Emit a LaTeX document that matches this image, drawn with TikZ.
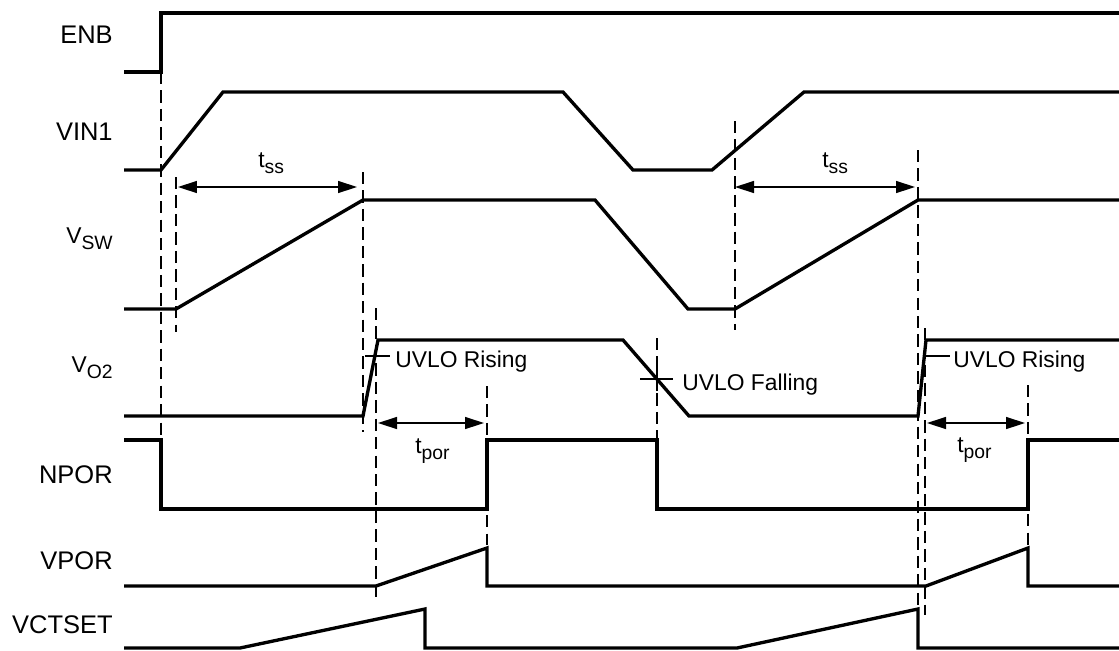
\documentclass[tikz,border=0pt]{standalone}
\usepackage{fontspec}
\setmainfont{Liberation Sans}
\usetikzlibrary{arrows.meta}
\newcommand{\lsub}[1]{\raisebox{-3.5pt}{\fontsize{11}{12}\selectfont #1}}
\begin{document}
\begin{tikzpicture}[x=0.02cm,y=-0.02cm,>={Triangle[length=0.38cm,width=0.24cm]},
		font=\fontsize{13}{15}\selectfont,
		wave/.style={line width=1.9pt},
		guide/.style={line width=0.8pt,dash pattern=on 7pt off 3.5pt},
		tick/.style={line width=0.8pt},
		dim/.style={line width=0.8pt,<->},
		sig/.style={anchor=base east,inner sep=0pt,font=\fontsize{14.5}{16}\selectfont},
		note/.style={anchor=base west,inner sep=0pt}]
	\useasboundingbox (0,0) rectangle (1119,650);
	\node[sig] (enb) at (113,43) {ENB};
	\node[sig] (vin) at (113,140) {VIN1};
	\node[sig,font=\fontsize{13}{15}\selectfont] (vsw) at (113,243) {V\lsub{SW}};
	\node[sig,font=\fontsize{13}{15}\selectfont] (vo) at (113,372) {V\lsub{O2}};
	\node[sig] (npor) at (113,483) {NPOR};
	\node[sig] (vpor) at (113,569) {VPOR};
	\node[sig] (vct) at (113,633) {VCTSET};
	\draw[guide] (161,72)--(161,440) (176,177)--(176,332) (363,172)--(363,432)
		(376,308)--(376,598) (487,386)--(487,545) (657,338)--(657,440)
		(735,121)--(735,330) (918,150)--(918,609) (925,328)--(925,615)
		(1028,385)--(1028,548);
	\draw[wave] (124,72)--(161,72)--(161,13)--(1119,13);
	\draw[wave] (124,170)--(161,170)--(223,92)--(563,92)--(633,170)--(712,170)--(804,92)--(1119,92);
	\draw[wave] (124,309)--(176,309)--(363,200)--(595,200)--(688,309)--(735,309)--(918,200)--(1119,200);
	\draw[wave] (124,416)--(363,416)--(378,340)--(623,340)--(689,416)--(918,416)--(926,340)--(1119,340);
	\draw[wave] (124,440)--(161,440)--(161,509)--(487,509)--(487,440)--(657,440)--(657,509)--(1028,509)--(1028,440)--(1119,440);
	\draw[wave] (124,586)--(376,586)--(487,548)--(487,586)--(926,586)--(1028,548)--(1028,586)--(1119,586);
	\draw[wave] (124,648)--(240,648)--(425,609)--(425,648)--(737,648)--(918,609)--(918,648)--(1119,648);
	\coordinate (ssa) at (178,187);
	\coordinate (ssb) at (357,187);
	\coordinate (ssc) at (735,187);
	\coordinate (ssd) at (915,187);
	\coordinate (pora) at (378,423);
	\coordinate (porb) at (484,423);
	\coordinate (porc) at (927,423);
	\coordinate (pord) at (1025,423);
	\draw[dim] (ssa)--(ssb);
	\draw[dim] (ssc)--(ssd);
	\draw[dim] (pora)--(porb);
	\draw[dim] (porc)--(pord);
	\node[note] (tss1) at (258,167) {t\lsub{ss}};
	\node[note] (tss2) at (822,167) {t\lsub{ss}};
	\node[note] (tpor1) at (415,453) {t\lsub{por}};
	\node[note] (tpor2) at (957,452) {t\lsub{por}};
	\node[note] (rise1) at (395,367) {UVLO Rising};
	\node[note] (rise2) at (953,367) {UVLO Rising};
	\node[note] (fall) at (682,390) {UVLO Falling};
	\draw[tick] (365,356)--(390,356);
	\draw[tick] (924,356)--(950,356);
	\draw[tick] (640,379)--(673,379) (657,367)--(657,391);
\end{tikzpicture}
\end{document}
